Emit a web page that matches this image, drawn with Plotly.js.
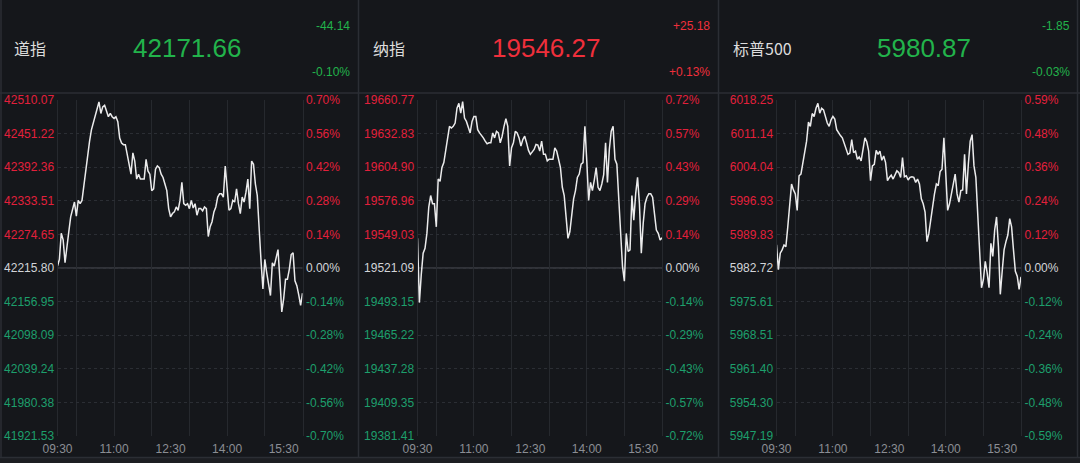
<!DOCTYPE html>
<html><head><meta charset="utf-8">
<script src="https://cdn.plot.ly/plotly-3.0.1.min.js"></script>
<style>html,body{margin:0;padding:0;background:#15171b;overflow:hidden;}#chart{width:1080px;height:463px;}</style>
</head><body><div id="chart"></div>
<script>
// ---- data ----
const minutes = [0,3,6,9,12,15,18,21,24,27,30,33,36,39,42,45,48,51,54,57,60,63,66,69,72,75,78,81,84,87,90,93,96,99,102,105,108,111,114,117,120,123,126,129,132,135,138,141,144,147,150,153,156,159,162,165,168,171,174,177,180,183,186,189,192,195,198,201,204,207,210,213,216,219,222,225,228,231,234,237,240,243,246,249,252,255,258,261,264,267,270,273,276,279,282,285,288,291,294,297,300,303,306,309,312,315,318,321,324,327,330,333,336,339,342,345,348,351,354,357,360,363,366,369,372,375,378,381,384,387,390];

const timeTickVals = [0,90,180,270,360];
const timeTickText = ['09:30','11:00','12:30','14:00','15:30'];
const hourGridMinutes = [30,90,150,210,270,330];

const indexNames = ['道指','纳指','标普500'];
const lastPrices = ['42171.66','19546.27','5980.87'];
const changes = ['-44.14','+25.18','-1.85'];
const changePcts = ['-0.10%','+0.13%','-0.03%'];
const prevCloses = [42215.80, 19521.09, 5982.72];

const dowTicks = [42510.07,42451.22,42392.36,42333.51,42274.65,42215.80,42156.95,42098.09,42039.24,41980.38,41921.53];
const dowPctTicks = ['0.70%','0.56%','0.42%','0.28%','0.14%','0.00%','-0.14%','-0.28%','-0.42%','-0.56%','-0.70%'];
const nasTicks = [19660.77,19632.83,19604.90,19576.96,19549.03,19521.09,19493.15,19465.22,19437.28,19409.35,19381.41];
const nasPctTicks = ['0.72%','0.57%','0.43%','0.29%','0.14%','0.00%','-0.14%','-0.29%','-0.43%','-0.57%','-0.72%'];
const spxTicks = [6018.25,6011.14,6004.04,5996.93,5989.83,5982.72,5975.61,5968.51,5961.40,5954.30,5947.19];
const spxPctTicks = ['0.59%','0.48%','0.36%','0.24%','0.12%','0.00%','-0.12%','-0.24%','-0.36%','-0.48%','-0.59%'];

const dowValues = [42219.25,42230.74,42276.72,42265.22,42225.00,42247.98,42279.59,42305.45,42321.54,42331.31,
42306.60,42334.19,42328.44,42334.19,42360.05,42388.78,42408.90,42437.63,42457.75,42469.24,
42480.74,42492.23,42506.60,42486.48,42497.98,42500.85,42489.36,42480.74,42486.48,42480.74,
42477.86,42480.74,42472.12,42443.38,42434.76,42431.89,42431.89,42412.92,42394.53,42380.16,
42417.52,42403.15,42371.54,42380.16,42371.54,42371.54,42371.54,42406.03,42385.91,42380.16,
42351.43,42354.30,42388.78,42394.53,42391.66,42380.16,42374.42,42362.92,42351.43,42319.82,
42305.45,42311.20,42314.07,42322.69,42316.95,42334.19,42365.80,42328.44,42325.57,42328.44,
42319.82,42334.19,42320.97,42328.44,42308.33,42319.82,42319.82,42315.80,42322.69,42319.82,
42270.97,42288.21,42296.83,42314.07,42322.69,42339.94,42345.68,42345.68,42339.94,42394.53,
42354.30,42316.95,42319.82,42334.19,42331.31,42354.30,42328.44,42311.20,42339.94,42331.31,
42348.56,42371.54,42319.82,42403.15,42397.41,42362.92,42342.81,42273.84,42227.87,42179.02,
42230.74,42207.75,42184.77,42167.53,42225.00,42219.25,42233.62,42247.98,42196.26,42138.79,
42161.78,42196.26,42196.26,42213.50,42239.36,42242.24,42193.39,42184.77,42168.67,42150.28,
42171.66];

const nasValues = [19545.74,19492.33,19515.61,19533.42,19537.52,19549.85,19571.76,19581.35,19574.50,19574.50,
19555.33,19595.04,19593.13,19604.63,19608.74,19618.87,19629.28,19638.87,19637.50,19638.87,
19641.61,19653.93,19658.04,19649.82,19659.41,19645.71,19642.98,19637.50,19633.39,19642.98,
19647.09,19647.09,19636.13,19633.39,19631.47,19629.28,19626.54,19624.35,19625.17,19625.17,
19633.39,19629.28,19634.76,19633.39,19625.17,19630.65,19638.87,19645.17,19638.87,19606.00,
19621.06,19625.17,19634.76,19633.39,19629.28,19622.43,19627.91,19630.65,19625.17,19618.87,
19615.59,19617.78,19619.69,19623.80,19623.25,19618.32,19626.54,19615.59,19615.59,19610.11,
19611.48,19611.48,19611.48,19621.06,19618.32,19611.48,19604.63,19588.20,19581.35,19563.54,
19545.74,19551.22,19564.91,19578.61,19585.46,19596.41,19599.15,19607.37,19608.74,19638.87,
19610.11,19577.24,19592.30,19585.46,19594.22,19604.63,19588.20,19585.46,19590.93,19598.60,
19625.17,19592.30,19619.69,19634.76,19638.87,19611.48,19607.37,19577.24,19549.85,19522.46,
19510.13,19549.85,19534.79,19536.15,19581.35,19560.81,19582.72,19596.41,19574.50,19533.42,
19558.07,19574.50,19579.98,19582.72,19582.72,19579.98,19566.28,19552.59,19549.85,19544.37,
19546.27];

const spxValues = [5987.60,5982.37,5985.85,5986.55,5987.60,5987.25,5991.43,5996.30,6000.48,5999.23,
5998.39,5994.91,6002.22,6002.57,6005.01,6007.45,6009.54,6013.58,6012.67,6015.39,
6014.76,6016.51,6017.55,6015.46,6016.51,6016.16,6014.76,6013.37,6012.67,6014.07,
6014.76,6014.21,6011.98,6011.28,6010.72,6010.24,6008.98,6008.15,6006.75,6007.03,
6009.89,6007.10,6007.45,6005.71,6006.20,6005.36,6007.45,6010.24,6009.40,6007.45,
6001.18,6004.31,6004.66,6007.59,6006.75,6007.45,6005.50,6006.40,6005.01,6001.18,
6001.88,6002.36,6001.53,6002.57,6003.27,6002.92,6001.88,6006.06,6002.02,6002.22,
6001.32,6001.88,6002.02,6001.88,6000.83,6001.53,6000.48,5997.35,5996.30,5994.56,
5988.29,5990.03,5992.82,5996.30,5998.39,6000.48,6000.14,6003.13,6003.62,6010.24,
6002.57,5994.91,5996.30,5998.39,5999.79,6002.57,5998.39,5996.65,5999.09,5999.23,
6006.75,5998.39,6004.66,6009.54,6010.93,6004.31,6001.88,5993.52,5986.55,5978.54,
5980.28,5984.11,5981.68,5978.54,5987.94,5985.16,5990.73,5993.52,5987.25,5977.15,
5982.02,5986.55,5988.29,5989.69,5993.17,5991.43,5986.55,5982.02,5980.98,5978.19,
5980.87];

// ---- styling ----
const W = 1080, H = 463;
const BG = '#15171b';
const UP = '#e3203b', DOWN = '#1d9f6c', FLAT = '#d2d4d8';
const HEAD_UP = '#ef2f3b', HEAD_DOWN = '#22b34b';
const FONT = 'Liberation Sans, Arial, Helvetica, sans-serif';
const panelX = [[57.5,302.5],[417.5,662],[776.5,1021]];
const plotTop = 100, plotBottom = 436;
const px = v => v / W, py = v => 1 - v / H;

const series = [dowValues, nasValues, spxValues];
const tickSets = [dowTicks, nasTicks, spxTicks];
const pctSets = [dowPctTicks, nasPctTicks, spxPctTicks];

function colored(txt, c) { return '<span style="color:' + c + '">' + txt + '</span>'; }
function tickColor(v, base) { return Math.abs(v - base) < 1e-6 ? FLAT : (v > base ? UP : DOWN); }

const data = [];
const layout = {
  width: W, height: H, autosize: false,
  margin: {l: 0, r: 0, t: 0, b: 0, pad: 0},
  paper_bgcolor: BG, plot_bgcolor: BG,
  showlegend: false, hovermode: false,
  font: {family: FONT, size: 12, color: '#d2d4d8'},
  shapes: [], annotations: []
};

for (let i = 0; i < 3; i++) {
  const n = i + 1, m = i + 4;
  const xk = n === 1 ? 'xaxis' : 'xaxis' + n;
  const yk = n === 1 ? 'yaxis' : 'yaxis' + n;
  const xid = n === 1 ? 'x' : 'x' + n;
  const yid = n === 1 ? 'y' : 'y' + n;
  const ticks = tickSets[i], base = prevCloses[i];
  const lo = Math.min(...ticks), hi = Math.max(...ticks);
  const dom = [px(panelX[i][0]), px(panelX[i][1])];

  data.push({
    type: 'scatter', mode: 'lines', x: minutes, y: series[i],
    xaxis: xid, yaxis: yid,
    line: {color: '#ebebec', width: 1.5, shape: 'linear'},
    hoverinfo: 'skip'
  });
  // invisible anchor trace for the label/percent axes
  data.push({
    type: 'scatter', mode: 'markers', x: [minutes[0]], y: [base],
    xaxis: 'x' + m, yaxis: 'y' + m,
    marker: {opacity: 0, size: 1}, hoverinfo: 'skip'
  });

  layout[xk] = {
    domain: dom, range: [0, 390], anchor: yid, fixedrange: true,
    tickmode: 'array', tickvals: hourGridMinutes, ticktext: hourGridMinutes.map(() => ''),
    showticklabels: false, ticks: '',
    showgrid: true, gridcolor: '#26292e', gridwidth: 1,
    zeroline: false, showline: false
  };
  layout['xaxis' + m] = {
    overlaying: xid, anchor: yid, side: 'bottom', range: [0, 390], fixedrange: true,
    tickmode: 'array', tickvals: timeTickVals, ticktext: timeTickText,
    showgrid: false, zeroline: false, showline: false,
    ticks: 'outside', ticklen: 2, tickcolor: 'rgba(0,0,0,0)',
    tickfont: {family: FONT, size: 12, color: '#8b8e94'}
  };
  layout[yk] = {
    domain: [py(plotBottom), py(plotTop)], range: [lo, hi], anchor: xid, fixedrange: true,
    tickmode: 'array', tickvals: ticks,
    ticktext: ticks.map(v => colored(v.toFixed(2), tickColor(v, base))),
    ticks: '', side: 'left',
    showgrid: true, gridcolor: '#2b2e34', griddash: 'dot', gridwidth: 1,
    zeroline: false, showline: true, linecolor: '#26292e', linewidth: 1,
    tickfont: {family: FONT, size: 12}
  };
  layout['yaxis' + m] = {
    overlaying: yid, anchor: xid, side: 'right', range: [lo, hi], fixedrange: true,
    tickmode: 'array', tickvals: ticks,
    ticktext: ticks.map((v, k) => colored(pctSets[i][k], tickColor(v, base))),
    ticks: '', showgrid: false, zeroline: false,
    showline: true, linecolor: '#26292e', linewidth: 1,
    tickfont: {family: FONT, size: 12}
  };

  // previous-close reference line
  layout.shapes.push({
    type: 'line', xref: xid + ' domain', x0: 0, x1: 1, yref: yid, y0: base, y1: base,
    line: {color: '#3b3e44', width: 1.6}, layer: 'below'
  });

  // header texts
  const up = changes[i].charAt(0) === '+';
  const hc = up ? HEAD_UP : HEAD_DOWN;
  const offs = [0, 359, 719][i];
  layout.annotations.push({
    xref: 'paper', yref: 'paper', x: px(offs + 12), y: py(48), xanchor: 'left', yanchor: 'middle',
    text: indexNames[i], showarrow: false,
    font: {family: 'Noto Sans CJK SC, sans-serif', size: 16, color: '#dcdcdc'}
  });
  layout.annotations.push({
    xref: 'paper', yref: 'paper', x: px([186.5, 545.8, 923.7][i]), y: py(48), xanchor: 'center', yanchor: 'middle',
    text: lastPrices[i], showarrow: false,
    font: {family: FONT, size: 26, color: hc}
  });
  layout.annotations.push({
    xref: 'paper', yref: 'paper', x: px([352, 712, 1071.5][i]), y: py(26), xanchor: 'right', yanchor: 'middle',
    text: changes[i], showarrow: false, font: {family: FONT, size: 12, color: hc}
  });
  layout.annotations.push({
    xref: 'paper', yref: 'paper', x: px([352, 712, 1071.5][i]), y: py(72), xanchor: 'right', yanchor: 'middle',
    text: changePcts[i], showarrow: false, font: {family: FONT, size: 12, color: hc}
  });
}

// panel frame / separators
const SEP = '#2b2e34';
[1, 358.5, 718.5, 1077.5].forEach(x => layout.shapes.push({
  type: 'line', xref: 'paper', yref: 'paper', x0: px(x), x1: px(x), y0: py(457.5), y1: 1,
  line: {color: SEP, width: 1.5}
}));
[93, 457.5].forEach(y => layout.shapes.push({
  type: 'line', xref: 'paper', yref: 'paper', x0: 0, x1: 1, y0: py(y), y1: py(y),
  line: {color: SEP, width: 1.5}
}));
layout.shapes.push({
  type: 'rect', xref: 'paper', yref: 'paper', x0: 0, x1: 1, y0: 0, y1: py(458),
  fillcolor: '#1c1e22', line: {width: 0}, layer: 'below'
});

Plotly.newPlot('chart', data, layout, {displayModeBar: false, staticPlot: true});
</script></body></html>
